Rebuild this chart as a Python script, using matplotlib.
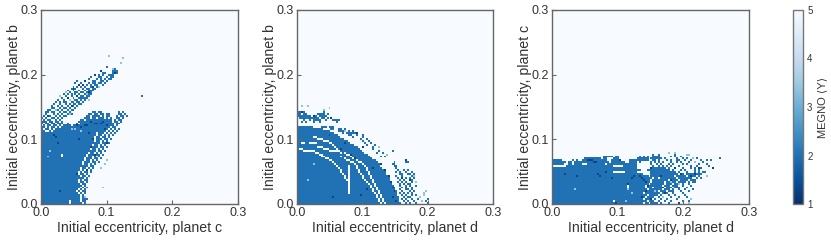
import numpy as np
from matplotlib import pyplot as plt

plt.rcParams['font.family'] = ['Liberation Sans', 'DejaVu Sans']

# grid of the stability maps: 100 x 100 cells from e=0 to e=0.3
N_CELLS = 100
E_MAX = 0.3

# MEGNO levels
MEGNO_CHAOTIC = 5.0
MEGNO_STABLE = 2.0
MEGNO_DARK = 1.35
MEGNO_LIGHT = 3.4

# row index -> columns with stable orbits (ranges a-b or single cells)
b_vs_c_rows = {
    70: "33", 69: "36 37", 68: "30 36 37 38", 67: "31 32 36 37 38", 66: "27 29 31 34 35 36",
    65: "25 29 30 33 35 36", 64: "24 28 30 32 34 35", 63: "18 22 26 27 30 31 33",
    62: "17 20 24 26 27 29 30 32", 61: "19 21 23 25 27 28 31", 60: "16 18 20 22 25 26 28 29",
    59: "15 17 21 23 24 26 27", 58: "13 16 19 22 24 25 26", 57: "12 14 17 18 20 21 23 25",
    56: "11 13 15 17 19 22 23 24 25", 55: "9 12 15 18 20 21 23 24 51",
    54: "10 13 16 19 20 21 22 23", 53: "8 11 14 17 18 20 22", 52: "7 9 11 12 15 16 18 19 21",
    51: "6 9 12 14 16 17 19 20", 50: "5 8 10 13 15 16 18", 49: "5 6 9 11 12 14 17",
    48: "3 4 7 8 10 13 15 16", 47: "2 3 5 6 9 11 12 14 26 27 29 30 39 41",
    46: "2 6 8 10 13 15 24 25 27 28 30 31 33 34 39 40 42",
    45: "1 3 4 7 9 11 12 23 24 26-29 31 33 34 38 40 41 43",
    44: "0 2 5 6 8 10 22-24 26 27 29-31 33 35 38 39 41",
    43: "1 3 4 7 9 20 21 23-35 37 39 40",
    42: "0-2 4 5 7 8 10 19-35 37 38 40", 41: "0 2 3 5 6 8-10 13 18 20-36 38 39",
    40: "1 3 4 6 7 9 11-14 16-36 38", 39: "0 1 3 5 6 8 10-34 36 37",
    38: "0 2 3 5 7-33 35 37 39", 37: "0 1 4 6-32 34 36 38", 36: "0-27 29-31 33 35 37",
    35: "0-27 29 30 32 34 36", 34: "0-26 28 29 31 32 34", 33: "0-26 28-30 32 33 35",
    32: "0-26 28 29 31 33", 31: "0-29 31 32 34", 30: "0-25 27 28 30 32",
    29: "0-24 26-28 30 31 33", 28: "0-24 26 27 29 31", 27: "0-27 29 30 32",
    26: "0-23 25 26 28 30", 25: "0-9 11-22 24-26 28 29 31", 24: "0-9 11-22 24 25 27 29",
    23: "0-21 23-25 27 28 30", 22: "0-21 23 24 26 28", 21: "0-20 22-24 26 27 29",
    20: "0-20 22 23 25 27", 19: "0-23 25 26", 18: "0-19 21 22 24 26",
    17: "0-19 21 23 25", 16: "0-18 20 22 23 25", 15: "0-18 20 21 23", 14: "0-19 21 22 24",
    13: "0-21 23", 12: "0-18 20 22 23", 11: "0-18 20 21 23", 10: "0-19 21 22",
    9: "0-20 22", 8: "0-19 21 23", 7: "0-18 20 22", 6: "0-17 19 21 22", 5: "0-18 20 22",
    4: "0-19 21", 3: "0-19 21 22", 2: "0-19 21-23", 1: "0-13 15-19 21 22", 0: "0-13 15-20 22",
}
b_vs_c_dark = [(25, 42), (27, 41), (28, 41), (30, 41), (31, 42), (33, 40), (18, 40), (20, 39),
               (23, 40), (32, 38), (24, 36), (6, 35), (7, 34), (19, 33), (26, 33), (25, 29),
               (27, 25), (23, 17), (18, 15), (19, 61), (33, 31), (37, 67), (27, 66), (26, 60),
               (16, 59), (30, 68), (15, 50), (24, 57), (9, 6), (8, 31), (3, 45), (22, 40),
               (13, 54), (18, 55), (21, 61), (22, 63)]
b_vs_c_light = [(34, 76), (41, 75), (40, 72), (4, 27), (3, 24), (36, 69), (29, 60), (23, 56),
                (14, 46), (7, 48), (15, 38), (17, 38), (20, 37), (32, 20), (30, 18), (24, 53),
                (33, 22), (31, 8), (22, 3), (12, 57), (9, 55), (14, 53)]

b_vs_d_rows = {
    50: "2 5", 49: "16", 48: "13", 47: "0-3 13", 46: "0 1 3 4 10-13 15", 45: "0-6 8 9 11-14",
    44: "1-10 12 13 15 17", 43: "3 6 8-11 14 18-21", 42: "2 4 8 11 20",
    39: "0-7 12-14 16-18", 38: "0-12 17 18 21 22 24", 37: "0-16 21-24 26 28",
    36: "0-18 23 25-30", 35: "0-20 26 27 30 33", 34: "0-21 28 33", 33: "0-23 32 35",
    32: "0-25 33 36", 31: "0-26 34 37", 30: "0-28 35 39", 29: "0-30 38 41",
    28: "0-31 38", 27: "0-32 41 48", 26: "0-33 40 43", 25: "0-35 45", 24: "0-36 42 44",
    23: "0-37", 22: "0-39 55", 21: "0-40 49 55 56", 20: "0-41 48 49", 19: "0-41 49 50", 18: "0-42 50",
    17: "0-43 51 54 56", 16: "0-44 50 52 55 58", 15: "0-44 52 53 56 57 59", 14: "0-45 50 53 58 59",
    13: "0-46 51 53 55 57 59", 12: "0-46 52 54 57 58", 11: "0-47 51 53 55 58 60",
    10: "0-47 52 54 56 57", 9: "0-48 52 55 57 60", 8: "0-49 53 55 58", 7: "0-49 52 55 56 58",
    6: "0-50 53 57 59 65", 5: "0-50 52 54 56 58 64", 4: "0-50 53 55 58 60 64",
    3: "0-51 54 56 57 62", 2: "0-51 53 55 58 61 66", 1: "0-51 54 56 59 63 65", 0: "0-52 55 57 60 66",
}
# white arcs cutting through the stable block
b_vs_d_gaps = {
    34: "8 9", 33: "10 11 12", 32: "13 14 15", 31: "2 3 6 7 8 9 16 17", 30: "18", 29: "10 11 12 19",
    28: "1 2 13 14 15 20", 27: "3-8 16-21", 26: "9 10 22 24", 25: "11 12 25 26", 24: "12 13 22 27",
    23: "14 15 24 28 29", 22: "16 17 25 26 30", 21: "18 27 28 31 32", 20: "19 29 33",
    19: "20 26 30 34", 18: "21 26 30 35", 17: "22 26 31 35", 16: "22 26 31 36", 15: "23 26 32 36",
    14: "24 26 33 37", 13: "24 26 33 37", 12: "25 26 34 38", 11: "26 35 38", 10: "26 36 39",
    9: "26 37 39", 8: "26 37 40", 7: "26 38 40", 6: "26 38 41", 5: "26 39 41", 4: "40 42", 3: "40 42",
    2: "41 43", 1: "41 43", 0: "42 44",
}
b_vs_d_dark = [(30, 36), (24, 31), (16, 35), (22, 28), (27, 25), (48, 8), (49, 6), (48, 3), (50, 1),
               (47, 11), (46, 14), (44, 17), (42, 20), (18, 3), (35, 7), (32, 4), (8, 45), (2, 47),
               (17, 44), (55, 22), (53, 13), (57, 12), (38, 18), (29, 23), (33, 29)]
b_vs_d_light = [(2, 50), (5, 50), (13, 48), (16, 49), (63, 1), (64, 5), (64, 4), (65, 6), (62, 3),
                (5, 12), (8, 20), (24, 37), (41, 29), (45, 25), (60, 11), (59, 14)]

c_vs_d_rows = {
    26: "59 62", 25: "51 54 62 68 69",
    24: "26-30 32 33 44 46 48 51-54 60 62 65",
    23: "16-24 26 27 31 32 33 43-48 50-55 57 63 66 68 71 73 85",
    22: "0-4 10 12 15-27 30-34 39-48 51 52 54 58 60 63 64 67 70 75 78 80",
    21: "0-6 8 9 11-28 30-36 39-42 44 50 52 54 56 60 63 65 69 72 76",
    20: "0-5 8 9 11-14 18-26 28-42 50 53 55 59 61 66 68 74 78",
    19: "7-30 36-42 51 54 56 58 60 64 70 73 79",
    18: "0-42 50-57 59 62 66 70 72 75 81",
    17: "0-44 48-59 61 65 67 72 74",
    16: "0-30 37-42 50-62 64 68 72 74 76 77",
    15: "0-45 50-63 65 66 68-75", 14: "0-48 50-61 63-67 69-72 74 78",
    13: "0-50 52 53 55-62 64-70 73 75", 12: "0-49 51-58 60-63 65-68 70-72",
    11: "0-49 51-56 58-62 64-67 69 71 72", 10: "0-48 50-56 58-60 62-64 66 69",
    9: "0-37 39-46 48-55 57-59 61-63 66 70", 8: "0-37 39-46 48-50 52-56 58-60 62-64 68",
    7: "0-47 49-55 57-59 61 64 67 71", 6: "0-46 48-53 55-57 59-61 65 69",
    5: "0-45 47-54 56 58 61 66", 4: "0-47 49-53 55 59 62 67",
    3: "0-46 48-51 54 56 60 64 68", 2: "0-45 47-50 52 55 58 63 70",
    1: "0-30 32-47 49-51 54 57 60 66 69", 0: "0-45 47 48 50-53 55 59 64 69",
}
c_vs_d_dark = [(18, 22), (19, 22), (20, 22), (21, 21), (22, 21), (34, 22), (44, 14), (45, 13),
               (46, 12), (47, 11), (41, 14), (40, 13), (23, 15), (24, 14), (27, 16), (48, 9),
               (56, 8), (57, 5), (55, 14), (60, 12), (65, 15), (70, 14), (72, 15), (74, 18),
               (81, 18), (32, 0), (45, 3), (50, 2), (64, 0), (38, 10), (12, 14), (6, 15),
               (30, 13), (50, 18), (47, 6), (62, 18)]
c_vs_d_light = [(59, 26), (62, 26), (68, 25), (69, 25), (72, 21), (78, 14), (40, 5),
                (38, 7), (52, 6), (56, 3), (60, 11), (64, 10), (71, 23),
                (70, 2), (69, 0), (11, 7), (37, 1)]

panels = [
    ("Initial eccentricity, planet c", "Initial eccentricity, planet b",
     b_vs_c_rows, {}, b_vs_c_dark, b_vs_c_light, [41, 238]),
    ("Initial eccentricity, planet d", "Initial eccentricity, planet b",
     b_vs_d_rows, b_vs_d_gaps, b_vs_d_dark, b_vs_d_light, [297, 493]),
    ("Initial eccentricity, planet d", "Initial eccentricity, planet c",
     c_vs_d_rows, {}, c_vs_d_dark, c_vs_d_light, [552, 749]),
]


def cols(text):
    out = []
    for part in text.split():
        if "-" in part:
            a, b = part.split("-")
            out += list(range(int(a), int(b) + 1))
        else:
            out.append(int(part))
    return out


def buildMap(rows, gaps, dark, light):
    grid = np.full((N_CELLS, N_CELLS), MEGNO_CHAOTIC)
    for r, text in rows.items():
        grid[r, cols(text)] = MEGNO_STABLE
    for r, text in gaps.items():
        grid[r, cols(text)] = MEGNO_CHAOTIC
    for c, r in dark:
        grid[r, c] = MEGNO_DARK
    for c, r in light:
        grid[r, c] = MEGNO_LIGHT
    return grid


W, H = 831, 240
fig = plt.figure(figsize=(W / 100, H / 100), dpi=100)
TXT = '#333333'
EDGE = '#666666'

for xlab, ylab, rows, gaps, dark, light, xpix in panels:
    ax = fig.add_axes([xpix[0] / W, 1 - 204 / H, (xpix[1] - xpix[0]) / W, 194 / H])
    im = ax.imshow(buildMap(rows, gaps, dark, light), origin='lower', cmap='Blues_r', vmin=1, vmax=5,
                   extent=[0, E_MAX, 0, E_MAX], aspect='auto', interpolation='nearest')
    ax.set_xticks([0, 0.1, 0.2, 0.3])
    ax.set_yticks([0, 0.1, 0.2, 0.3])
    ax.set_xticklabels(['0.0', '0.1', '0.2', '0.3'])
    ax.set_yticklabels(['0.0', '0.1', '0.2', '0.3'])
    ax.tick_params(direction='in', length=3, width=0.8, color=EDGE, labelcolor=TXT, labelsize=9, pad=2)
    ax.set_xlabel(xlab, fontsize=10.2, color=TXT, labelpad=1.5)
    ax.set_ylabel(ylab, fontsize=10.2, color=TXT, labelpad=0)
    for s in ax.spines.values():
        s.set_color(EDGE)
        s.set_linewidth(1)

cax = fig.add_axes([793 / W, 1 - 204 / H, 10 / W, 194 / H])
cb = fig.colorbar(im, cax=cax, ticks=[1, 2, 3, 4, 5])
cb.ax.tick_params(length=0, labelsize=7, labelcolor=TXT, pad=3)
cb.outline.set_edgecolor('#777777')
cb.outline.set_linewidth(1)
cb.set_label('MEGNO ⟨Y⟩', fontsize=8, color=TXT, labelpad=3)

fig.savefig('out.png', dpi=100)
